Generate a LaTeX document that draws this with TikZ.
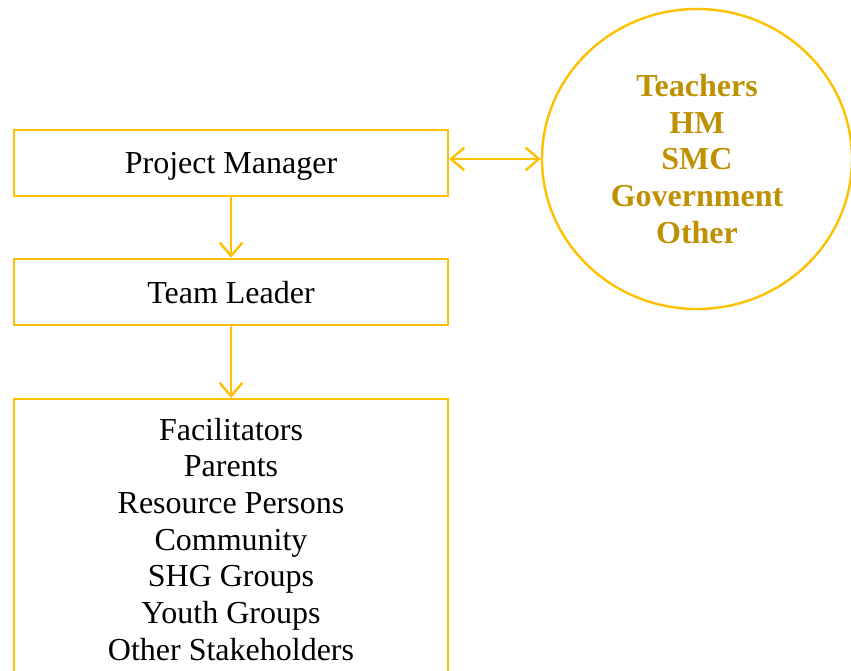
\documentclass[tikz,border=0pt]{standalone}
\usepackage{fontspec}
\setmainfont{Liberation Serif}
\usetikzlibrary{positioning, shapes.geometric, arrows.meta}
\definecolor{boxline}{HTML}{FFC000}
\definecolor{goldtext}{HTML}{BF9000}
\tikzset{
    rolebox/.style={shape=rectangle, draw=boxline, line width=1.8pt, minimum width=325.5pt, minimum height=49.5pt, font=\fontsize{24}{27.5}\selectfont, align=center},
    link/.style={draw=boxline, line width=1.8pt},
    barb/.tip={Straight Barb[length=10pt, width=17pt]}
}

\begin{document}
\begin{tikzpicture}[x=0.75pt, y=-0.75pt]
        \useasboundingbox (0,0) rectangle (851,671);
        \clip (0,0) rectangle (851,671);

        \node[rolebox, text depth=0pt] (PM) at (231,163) {Project Manager};
        \node[rolebox, text depth=0pt] (TL) at (231,292) {Team Leader};
        \node[rolebox, anchor=north, inner ysep=14pt] (Members) at (231,398) {Facilitators\\Parents\\Resource Persons\\Community\\SHG Groups\\Youth Groups\\Other Stakeholders};

        \node[shape=ellipse, draw=boxline, line width=1.8pt, minimum width=232.5pt, minimum height=225pt, inner sep=0pt, text=goldtext, font=\bfseries\fontsize{24}{27.5}\selectfont, align=center] (Others) at (697,159) {Teachers\\HM\\SMC\\Government\\Other};

        \draw [link, -barb] (PM) -- (TL);
        \draw [link, -barb] (TL) -- (Members);
        \draw [link, barb-barb] (PM.east |- Others.west) -- (Others.west);
\end{tikzpicture}
\end{document}
